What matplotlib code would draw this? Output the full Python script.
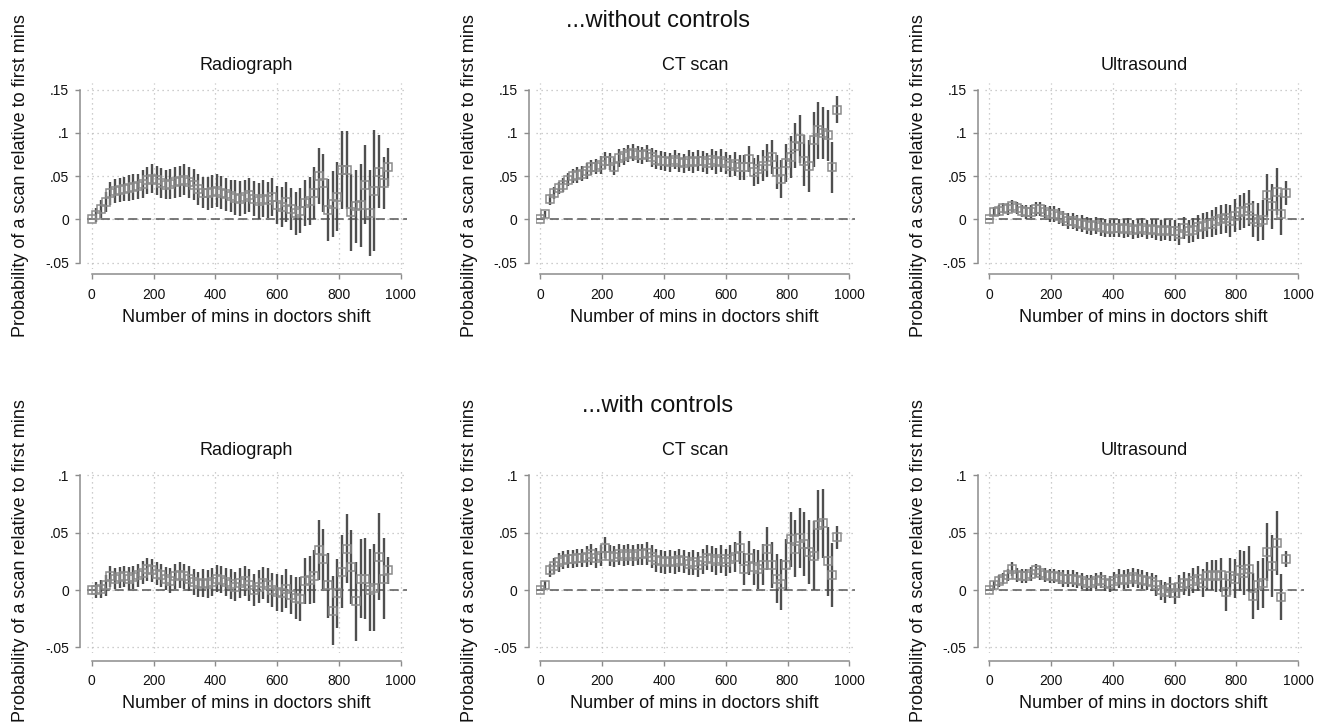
import matplotlib
matplotlib.use("Agg")
import matplotlib.pyplot as plt
import numpy as np

plt.rcParams['font.family'] = ['Liberation Sans', 'DejaVu Sans']

# ---------------- data ----------------
minutes = list(range(0, 961, 15))  # 65 points, 0..960

rad_nc = [0.000, 0.005, 0.012, 0.020, 0.030, 0.033, 0.034, 0.035, 0.036, 0.037,
          0.038, 0.041, 0.045, 0.047, 0.045, 0.042, 0.040, 0.041, 0.043, 0.044,
          0.046, 0.043, 0.040, 0.035, 0.031, 0.030, 0.032, 0.033, 0.031, 0.029,
          0.027, 0.025, 0.024, 0.026, 0.028, 0.024, 0.021, 0.024, 0.022, 0.026,
          0.017, 0.014, 0.020, 0.012, 0.007, 0.010, 0.019, 0.021, 0.030, 0.050,
          0.042, 0.011, 0.018, 0.026, 0.057, 0.057, 0.008, 0.015, 0.016, 0.040,
          0.007, 0.033, 0.055, 0.042, 0.060]
rad_nc_ci = [0.000, 0.008, 0.010, 0.012, 0.013, 0.014, 0.014, 0.014, 0.015, 0.015,
             0.015, 0.016, 0.016, 0.017, 0.017, 0.017, 0.017, 0.017, 0.018, 0.018,
             0.018, 0.018, 0.018, 0.018, 0.018, 0.019, 0.019, 0.019, 0.019, 0.019,
             0.019, 0.020, 0.020, 0.020, 0.020, 0.020, 0.021, 0.021, 0.021, 0.022,
             0.022, 0.023, 0.023, 0.024, 0.025, 0.026, 0.027, 0.028, 0.030, 0.032,
             0.034, 0.036, 0.038, 0.040, 0.045, 0.045, 0.045, 0.042, 0.048, 0.046,
             0.050, 0.070, 0.042, 0.030, 0.022]

ct_nc = [0.000, 0.006, 0.023, 0.030, 0.036, 0.040, 0.046, 0.050, 0.051, 0.053,
         0.056, 0.060, 0.061, 0.063, 0.068, 0.067, 0.061, 0.071, 0.073, 0.076,
         0.077, 0.075, 0.074, 0.076, 0.072, 0.069, 0.068, 0.067, 0.066, 0.069,
         0.066, 0.065, 0.068, 0.066, 0.068, 0.067, 0.065, 0.069, 0.066, 0.068,
         0.065, 0.062, 0.064, 0.060, 0.060, 0.070, 0.055, 0.058, 0.062, 0.068,
         0.072, 0.055, 0.047, 0.065, 0.072, 0.085, 0.093, 0.068, 0.062, 0.092,
         0.103, 0.100, 0.097, 0.060, 0.127]
ct_nc_ci = [0.000, 0.004, 0.006, 0.007, 0.007, 0.008, 0.008, 0.008, 0.009, 0.009,
            0.009, 0.009, 0.009, 0.010, 0.010, 0.010, 0.010, 0.010, 0.010, 0.010,
            0.010, 0.010, 0.010, 0.010, 0.011, 0.011, 0.011, 0.011, 0.011, 0.011,
            0.011, 0.011, 0.012, 0.012, 0.012, 0.012, 0.012, 0.012, 0.013, 0.013,
            0.013, 0.013, 0.014, 0.014, 0.015, 0.015, 0.016, 0.017, 0.018, 0.019,
            0.020, 0.020, 0.022, 0.022, 0.024, 0.026, 0.028, 0.030, 0.030, 0.032,
            0.033, 0.030, 0.030, 0.030, 0.016]

us_nc = [0.000, 0.009, 0.010, 0.013, 0.012, 0.015, 0.013, 0.010, 0.008, 0.009,
         0.012, 0.012, 0.009, 0.006, 0.006, 0.004, 0.001, -0.002, -0.002, -0.004,
         -0.005, -0.007, -0.008, -0.007, -0.009, -0.010, -0.011, -0.010, -0.010, -0.011,
         -0.010, -0.012, -0.011, -0.010, -0.012, -0.011, -0.012, -0.013, -0.012, -0.013,
         -0.013, -0.017, -0.010, -0.014, -0.012, -0.009, -0.008, -0.006, -0.005, -0.002,
         0.000, 0.001, -0.002, 0.004, 0.008, 0.010, 0.013, 0.000, -0.003, -0.001,
         0.028, 0.015, 0.032, 0.006, 0.030]
us_nc_ci = [0.000, 0.005, 0.006, 0.006, 0.007, 0.007, 0.007, 0.007, 0.008, 0.008,
            0.008, 0.008, 0.008, 0.009, 0.009, 0.009, 0.009, 0.009, 0.009, 0.009,
            0.010, 0.010, 0.010, 0.010, 0.010, 0.010, 0.010, 0.010, 0.010, 0.011,
            0.011, 0.011, 0.011, 0.011, 0.011, 0.011, 0.012, 0.012, 0.012, 0.012,
            0.012, 0.013, 0.013, 0.013, 0.014, 0.014, 0.015, 0.015, 0.016, 0.016,
            0.017, 0.017, 0.018, 0.019, 0.020, 0.020, 0.021, 0.021, 0.022, 0.023,
            0.025, 0.026, 0.027, 0.024, 0.014]

rad_c = [0.000, 0.000, 0.001, 0.004, 0.012, 0.010, 0.011, 0.012, 0.010, 0.011,
         0.013, 0.015, 0.018, 0.017, 0.014, 0.013, 0.010, 0.008, 0.012, 0.013,
         0.012, 0.010, 0.007, 0.005, 0.006, 0.005, 0.007, 0.010, 0.009, 0.007,
         0.005, 0.003, 0.006, 0.008, 0.004, 0.000, 0.003, 0.006, 0.004, 0.000,
         -0.002, -0.003, 0.001, -0.004, -0.007, -0.008, 0.008, 0.009, 0.012, 0.035,
         0.027, 0.004, -0.018, -0.003, 0.016, 0.036, 0.020, -0.010, 0.010, 0.010,
         0.000, 0.002, 0.029, 0.010, 0.017]
rad_c_ci = [0.000, 0.007, 0.008, 0.009, 0.009, 0.009, 0.009, 0.009, 0.010, 0.010,
            0.010, 0.010, 0.010, 0.010, 0.010, 0.010, 0.010, 0.011, 0.011, 0.011,
            0.011, 0.011, 0.011, 0.011, 0.012, 0.012, 0.012, 0.012, 0.012, 0.012,
            0.013, 0.013, 0.013, 0.013, 0.014, 0.014, 0.014, 0.014, 0.015, 0.015,
            0.016, 0.016, 0.017, 0.017, 0.018, 0.019, 0.020, 0.021, 0.023, 0.026,
            0.026, 0.028, 0.030, 0.030, 0.032, 0.030, 0.032, 0.034, 0.034, 0.035,
            0.036, 0.038, 0.038, 0.035, 0.012]

ct_c = [0.000, 0.004, 0.017, 0.021, 0.024, 0.026, 0.027, 0.027, 0.028, 0.028,
        0.029, 0.031, 0.028, 0.030, 0.037, 0.030, 0.029, 0.031, 0.030, 0.031,
        0.030, 0.031, 0.031, 0.032, 0.029, 0.026, 0.025, 0.024, 0.025, 0.024,
        0.026, 0.025, 0.023, 0.024, 0.022, 0.025, 0.028, 0.027, 0.025, 0.027,
        0.024, 0.027, 0.029, 0.037, 0.018, 0.028, 0.020, 0.018, 0.022, 0.036,
        0.022, 0.010, 0.005, 0.022, 0.044, 0.036, 0.045, 0.040, 0.033, 0.030,
        0.057, 0.058, 0.025, 0.013, 0.046]
ct_c_ci = [0.000, 0.004, 0.006, 0.007, 0.008, 0.008, 0.008, 0.008, 0.008, 0.008,
           0.009, 0.009, 0.009, 0.009, 0.009, 0.009, 0.009, 0.009, 0.009, 0.009,
           0.009, 0.009, 0.009, 0.010, 0.010, 0.010, 0.010, 0.010, 0.010, 0.010,
           0.010, 0.010, 0.010, 0.011, 0.011, 0.011, 0.011, 0.011, 0.012, 0.012,
           0.012, 0.012, 0.013, 0.014, 0.014, 0.015, 0.016, 0.017, 0.018, 0.019,
           0.020, 0.021, 0.022, 0.022, 0.024, 0.025, 0.026, 0.028, 0.028, 0.030,
           0.030, 0.030, 0.030, 0.028, 0.010]

us_c = [0.000, 0.004, 0.008, 0.010, 0.013, 0.018, 0.013, 0.012, 0.012, 0.014,
        0.017, 0.015, 0.013, 0.012, 0.012, 0.011, 0.010, 0.010, 0.010, 0.009,
        0.008, 0.006, 0.006, 0.008, 0.009, 0.006, 0.005, 0.008, 0.010, 0.009,
        0.010, 0.011, 0.010, 0.009, 0.008, 0.007, 0.004, 0.000, -0.002, 0.002,
        -0.003, 0.003, 0.006, 0.005, 0.008, 0.010, 0.006, 0.012, 0.013, 0.012,
        0.013, -0.002, 0.012, 0.010, 0.017, 0.015, 0.018, -0.005, 0.004, 0.006,
        0.033, 0.021, 0.041, -0.006, 0.027]
us_c_ci = [0.000, 0.004, 0.005, 0.005, 0.005, 0.006, 0.006, 0.006, 0.006, 0.006,
           0.006, 0.006, 0.006, 0.006, 0.006, 0.006, 0.007, 0.007, 0.007, 0.007,
           0.007, 0.007, 0.007, 0.007, 0.007, 0.007, 0.007, 0.008, 0.008, 0.008,
           0.008, 0.008, 0.008, 0.008, 0.008, 0.008, 0.009, 0.009, 0.009, 0.009,
           0.009, 0.010, 0.010, 0.010, 0.011, 0.011, 0.012, 0.012, 0.013, 0.014,
           0.015, 0.016, 0.016, 0.017, 0.018, 0.019, 0.020, 0.020, 0.021, 0.022,
           0.025, 0.027, 0.028, 0.020, 0.007]

panel_titles = ["Radiograph", "CT scan", "Ultrasound"]
row_titles = ["...without controls", "...with controls"]
xticks = [0, 200, 400, 600, 800, 1000]
yticks_top = [-0.05, 0, 0.05, 0.1, 0.15]
ytick_labels_top = ["-.05", "0", ".05", ".1", ".15"]
yticks_bot = [-0.05, 0, 0.05, 0.1]
ytick_labels_bot = ["-.05", "0", ".05", ".1"]
ylabel = "Probability of a scan relative to first mins"
xlabel = "Number of mins in doctors shift"

series = [[(rad_nc, rad_nc_ci), (ct_nc, ct_nc_ci), (us_nc, us_nc_ci)],
          [(rad_c, rad_c_ci), (ct_c, ct_c_ci), (us_c, us_c_ci)]]

# ---------------- layout (pixel based) ----------------
W, H = 1324, 725
fig = plt.figure(figsize=(W / 100, H / 100), dpi=100)
fig.patch.set_facecolor("white")

px_per_x = 0.309
col_x0 = [91.7, 540.3, 989.3]           # pixel of x = 0
xlim = (-15, 1020)
rows = [
    dict(zero=219.3, ppu=864.0, ylim=(-0.057, 0.158), yticks=yticks_top,
         ylabels=ytick_labels_top, spine_out=4.0, sup_y=21, title_y=66,
         ylab_y=176, xlab_y=318),
    dict(zero=590.0, ppu=1148.0, ylim=(-0.055, 0.105), yticks=yticks_bot,
         ylabels=ytick_labels_bot, spine_out=5.3, sup_y=406, title_y=451,
         ylab_y=561, xlab_y=703),
]

axis_gray = "#8c8c8c"
txt = "#111111"

for r, row in enumerate(rows):
    for c in range(3):
        x0 = col_x0[c]
        left_px = x0 + xlim[0] * px_per_x
        right_px = x0 + xlim[1] * px_per_x
        top_px = row["zero"] - row["ylim"][1] * row["ppu"]
        bot_px = row["zero"] - row["ylim"][0] * row["ppu"]
        ax = fig.add_axes([left_px / W, 1 - bot_px / H,
                           (right_px - left_px) / W, (bot_px - top_px) / H])
        vals, ci = series[r][c]
        ax.set_xlim(*xlim)
        ax.set_ylim(*row["ylim"])
        ax.set_xticks(xticks)
        ax.set_yticks(row["yticks"])
        ax.set_yticklabels(row["ylabels"])
        ax.grid(True, color="#bdbdbd", linestyle=(0, (1, 3)), linewidth=0.9)
        ax.set_axisbelow(True)
        ax.axhline(0, color="#555555", linewidth=1.1, linestyle=(0, (6, 3)), zorder=1.5)
        ax.errorbar(minutes, vals, yerr=ci, fmt="none", ecolor="#4f4f4f",
                    elinewidth=1.7, capsize=0, zorder=2)
        ax.plot(minutes, vals, "s", mfc="none", mec="#8a8a8a", ms=5.6, mew=1.1, zorder=3)

        for s in ("top", "right"):
            ax.spines[s].set_visible(False)
        ax.spines["left"].set_position(("outward", 5.1))
        ax.spines["bottom"].set_position(("outward", row["spine_out"]))
        ax.spines["left"].set_bounds(row["yticks"][0], row["yticks"][-1])
        ax.spines["bottom"].set_bounds(0, 1000)
        for s in ("left", "bottom"):
            ax.spines[s].set_color(axis_gray)
            ax.spines[s].set_linewidth(1.1)
        ax.tick_params(axis="both", direction="out", length=3.8, width=1.0,
                       color=axis_gray, labelsize=10, labelcolor=txt)
        ax.tick_params(axis="y", pad=4)
        ax.tick_params(axis="x", pad=6)

        cx = x0 + 500 * px_per_x
        fig.text(cx / W, 1 - row["title_y"] / H, panel_titles[c], ha="center",
                 va="center", fontsize=13, color=txt)
        fig.text(cx / W, 1 - row["xlab_y"] / H, xlabel, ha="center", va="center",
                 fontsize=13, color=txt)
        fig.text((21 + 448.8 * c) / W, 1 - row["ylab_y"] / H, ylabel, ha="center",
                 va="center", rotation=90, fontsize=13, color=txt)

    fig.text(658 / W, 1 - row["sup_y"] / H, row_titles[r], ha="center", va="center",
             fontsize=17, color=txt)

fig.savefig("out.png", dpi=100, facecolor="white")
